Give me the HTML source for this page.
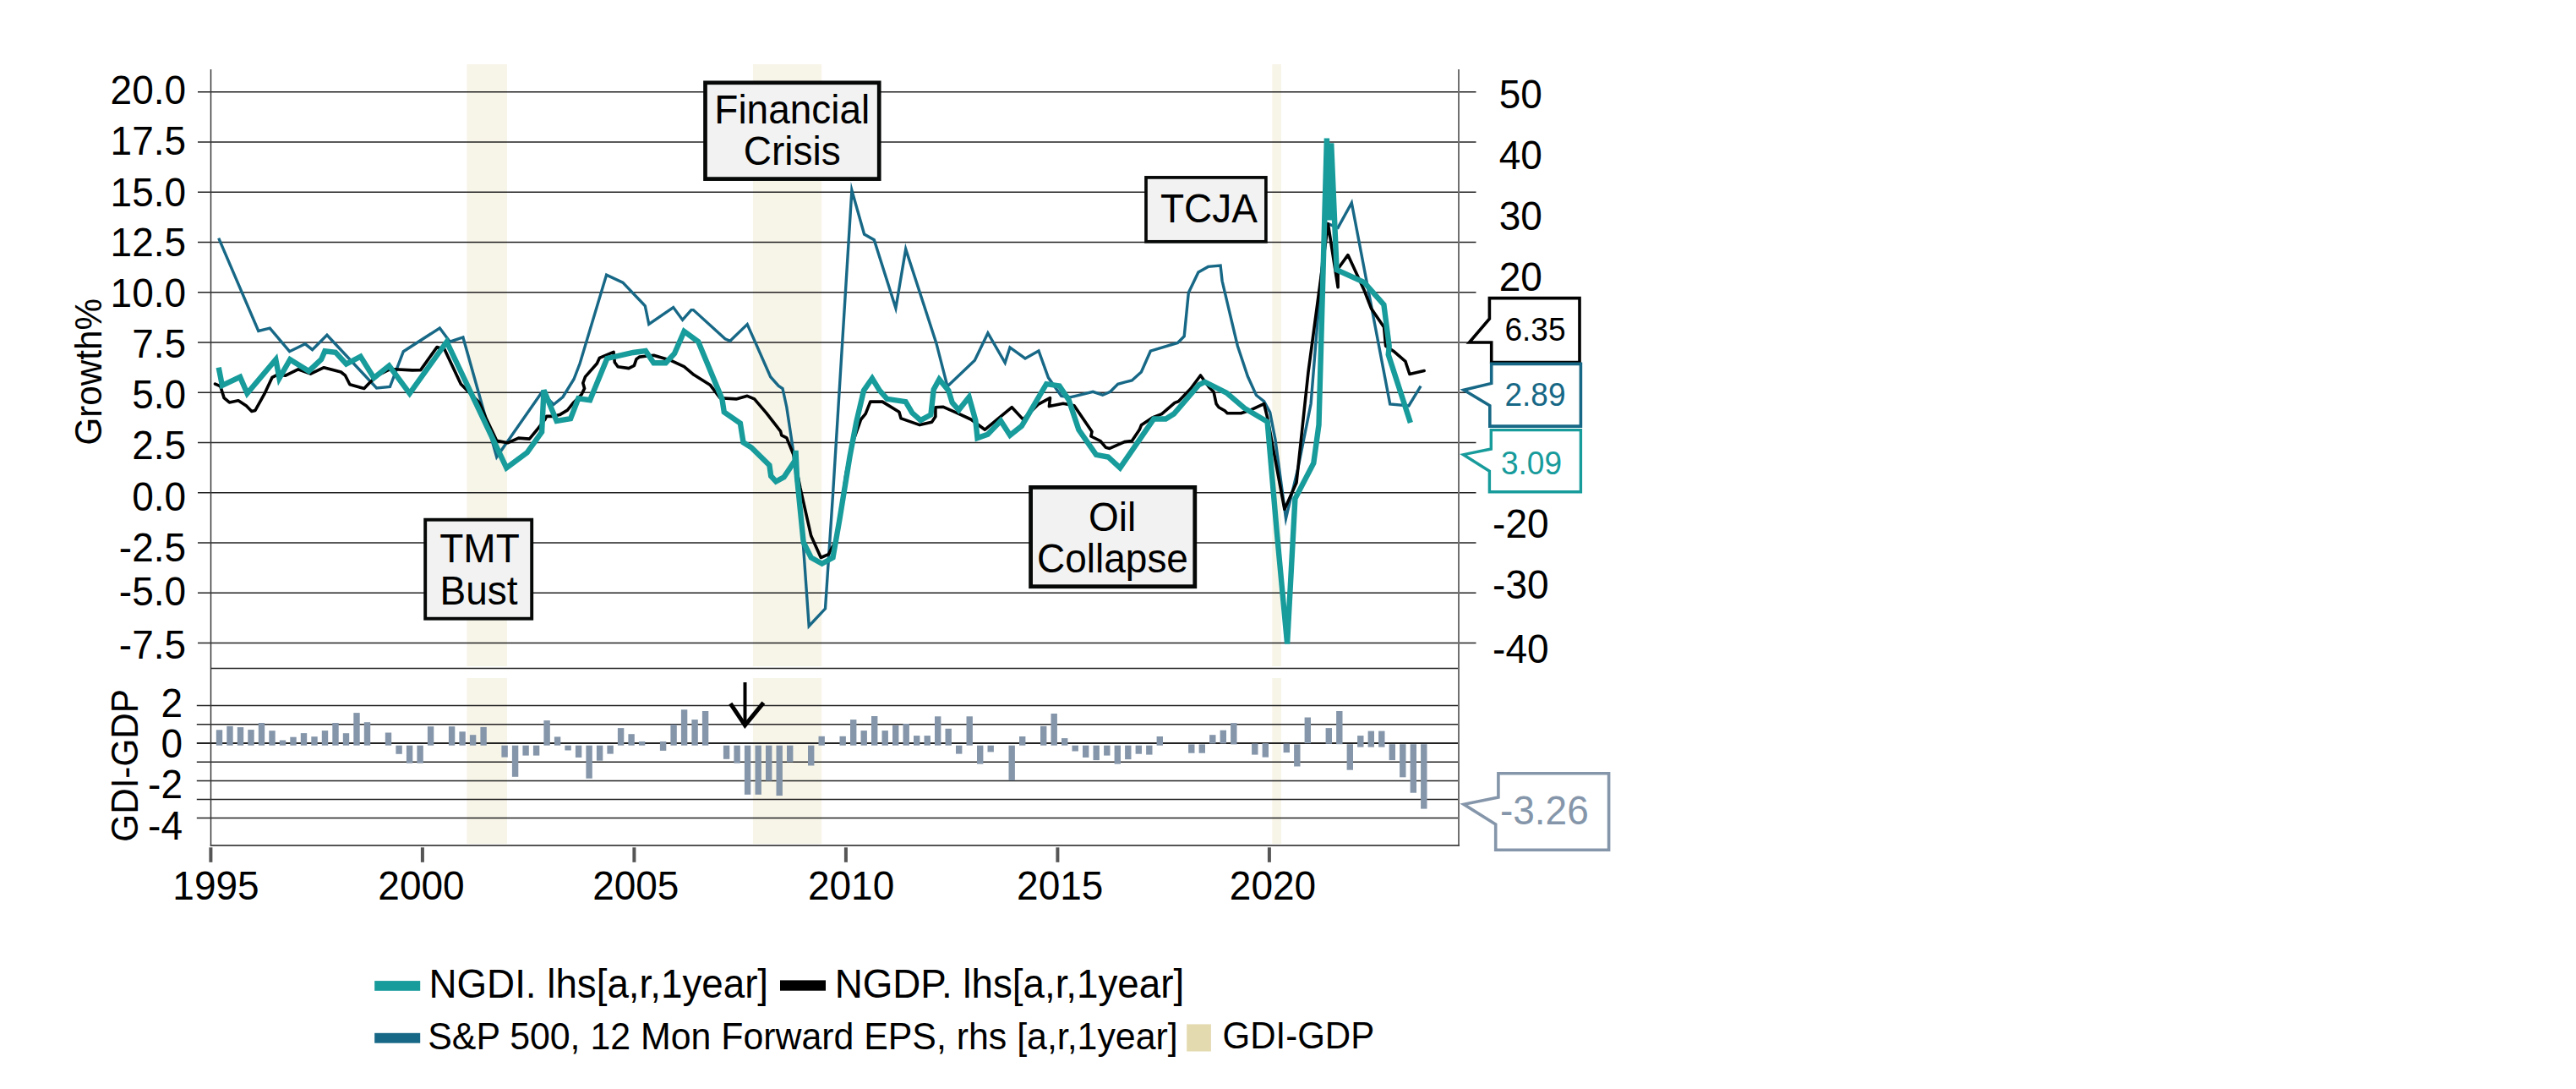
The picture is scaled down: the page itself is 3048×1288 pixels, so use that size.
<!DOCTYPE html><html><head><meta charset="utf-8"><style>html,body{margin:0;padding:0;background:#fff;overflow:hidden;}svg{display:block;}text{font-family:"Liberation Sans", sans-serif;}</style></head><body>
<svg width="3048" height="1288" viewBox="0 0 3048 1288">
<rect x="0" y="0" width="3048" height="1288" fill="#fff"/>
<rect x="552.5" y="76" width="47.4" height="712" fill="#f7f4e8"/>
<rect x="552.5" y="802" width="47.4" height="196" fill="#f7f4e8"/>
<rect x="891.0" y="76" width="81.2" height="712" fill="#f7f4e8"/>
<rect x="891.0" y="802" width="81.2" height="196" fill="#f7f4e8"/>
<rect x="1505.3" y="76" width="10.7" height="712" fill="#f7f4e8"/>
<rect x="1505.3" y="802" width="10.7" height="196" fill="#f7f4e8"/>
<line x1="234" y1="108.85" x2="1746.5" y2="108.85" stroke="#222222" stroke-width="1.5"/>
<line x1="234" y1="168.08" x2="1746.5" y2="168.08" stroke="#222222" stroke-width="1.5"/>
<line x1="234" y1="227.31" x2="1746.5" y2="227.31" stroke="#222222" stroke-width="1.5"/>
<line x1="234" y1="286.54" x2="1746.5" y2="286.54" stroke="#222222" stroke-width="1.5"/>
<line x1="234" y1="345.77" x2="1746.5" y2="345.77" stroke="#222222" stroke-width="1.5"/>
<line x1="234" y1="405.00" x2="1746.5" y2="405.00" stroke="#222222" stroke-width="1.5"/>
<line x1="234" y1="464.23" x2="1746.5" y2="464.23" stroke="#222222" stroke-width="1.5"/>
<line x1="234" y1="523.46" x2="1746.5" y2="523.46" stroke="#222222" stroke-width="1.5"/>
<line x1="234" y1="582.69" x2="1746.5" y2="582.69" stroke="#222222" stroke-width="1.5"/>
<line x1="234" y1="641.92" x2="1746.5" y2="641.92" stroke="#222222" stroke-width="1.5"/>
<line x1="234" y1="701.15" x2="1746.5" y2="701.15" stroke="#222222" stroke-width="1.5"/>
<line x1="234" y1="760.38" x2="1746.5" y2="760.38" stroke="#222222" stroke-width="1.5"/>
<line x1="249.4" y1="790.5" x2="1726" y2="790.5" stroke="#222222" stroke-width="1.7"/>
<line x1="232.8" y1="834.5" x2="1726" y2="834.5" stroke="#222222" stroke-width="1.5"/>
<line x1="232.8" y1="856.8" x2="1726" y2="856.8" stroke="#222222" stroke-width="1.5"/>
<line x1="232.8" y1="879.1" x2="1726" y2="879.1" stroke="#222222" stroke-width="2.0"/>
<line x1="232.8" y1="901.3" x2="1726" y2="901.3" stroke="#222222" stroke-width="1.5"/>
<line x1="232.8" y1="923.4" x2="1726" y2="923.4" stroke="#222222" stroke-width="1.5"/>
<line x1="232.8" y1="945.5" x2="1726" y2="945.5" stroke="#222222" stroke-width="1.5"/>
<line x1="232.8" y1="967.6" x2="1726" y2="967.6" stroke="#222222" stroke-width="1.5"/>
<line x1="249.5" y1="82" x2="249.5" y2="1000.6" stroke="#383838" stroke-width="1.5"/>
<line x1="1726" y1="82" x2="1726" y2="1000.6" stroke="#707070" stroke-width="2"/>
<line x1="248.7" y1="999.9" x2="1727" y2="999.9" stroke="#3c3c3c" stroke-width="1.6"/>
<rect x="247.4" y="1002.3" width="4" height="17.5" fill="#555"/>
<rect x="497.9" y="1002.3" width="4" height="17.5" fill="#555"/>
<rect x="748.4" y="1002.3" width="4" height="17.5" fill="#555"/>
<rect x="998.9" y="1002.3" width="4" height="17.5" fill="#555"/>
<rect x="1249.4" y="1002.3" width="4" height="17.5" fill="#555"/>
<rect x="1499.9" y="1002.3" width="4" height="17.5" fill="#555"/>
<rect x="255.8" y="863.3" width="7.4" height="18.4" fill="#8596aa"/>
<rect x="268.3" y="858.8" width="7.4" height="22.9" fill="#8596aa"/>
<rect x="280.8" y="860.1" width="7.4" height="21.6" fill="#8596aa"/>
<rect x="293.3" y="863.1" width="7.4" height="18.6" fill="#8596aa"/>
<rect x="305.8" y="855.0" width="7.4" height="26.7" fill="#8596aa"/>
<rect x="318.3" y="864.2" width="7.4" height="17.5" fill="#8596aa"/>
<rect x="330.8" y="875.5" width="7.4" height="6.2" fill="#8596aa"/>
<rect x="343.3" y="871.7" width="7.4" height="10.0" fill="#8596aa"/>
<rect x="355.8" y="867.1" width="7.4" height="14.6" fill="#8596aa"/>
<rect x="368.3" y="871.2" width="7.4" height="10.5" fill="#8596aa"/>
<rect x="380.8" y="864.1" width="7.4" height="17.6" fill="#8596aa"/>
<rect x="393.3" y="855.0" width="7.4" height="26.7" fill="#8596aa"/>
<rect x="405.8" y="867.2" width="7.4" height="14.5" fill="#8596aa"/>
<rect x="418.3" y="843.1" width="7.4" height="38.6" fill="#8596aa"/>
<rect x="430.8" y="854.2" width="7.4" height="27.5" fill="#8596aa"/>
<rect x="455.8" y="866.5" width="7.4" height="15.2" fill="#8596aa"/>
<rect x="468.4" y="881.7" width="7.4" height="10.1" fill="#8596aa"/>
<rect x="480.9" y="881.7" width="7.4" height="21.0" fill="#8596aa"/>
<rect x="493.4" y="881.7" width="7.4" height="21.0" fill="#8596aa"/>
<rect x="505.9" y="859.2" width="7.4" height="22.5" fill="#8596aa"/>
<rect x="530.9" y="859.2" width="7.4" height="22.5" fill="#8596aa"/>
<rect x="543.4" y="865.3" width="7.4" height="16.4" fill="#8596aa"/>
<rect x="555.9" y="869.2" width="7.4" height="12.5" fill="#8596aa"/>
<rect x="568.4" y="859.9" width="7.4" height="21.8" fill="#8596aa"/>
<rect x="593.4" y="881.7" width="7.4" height="13.9" fill="#8596aa"/>
<rect x="605.9" y="881.7" width="7.4" height="37.1" fill="#8596aa"/>
<rect x="618.4" y="881.7" width="7.4" height="11.9" fill="#8596aa"/>
<rect x="630.9" y="881.7" width="7.4" height="11.9" fill="#8596aa"/>
<rect x="643.4" y="852.1" width="7.4" height="29.6" fill="#8596aa"/>
<rect x="655.9" y="871.4" width="7.4" height="10.3" fill="#8596aa"/>
<rect x="668.4" y="881.7" width="7.4" height="5.8" fill="#8596aa"/>
<rect x="680.9" y="881.7" width="7.4" height="14.2" fill="#8596aa"/>
<rect x="693.4" y="881.7" width="7.4" height="39.0" fill="#8596aa"/>
<rect x="705.9" y="881.7" width="7.4" height="18.0" fill="#8596aa"/>
<rect x="718.4" y="881.7" width="7.4" height="9.9" fill="#8596aa"/>
<rect x="730.9" y="861.1" width="7.4" height="20.6" fill="#8596aa"/>
<rect x="743.4" y="868.2" width="7.4" height="13.5" fill="#8596aa"/>
<rect x="755.9" y="876.9" width="7.4" height="4.8" fill="#8596aa"/>
<rect x="780.9" y="876.9" width="7.4" height="11.0" fill="#8596aa"/>
<rect x="793.4" y="856.9" width="7.4" height="24.8" fill="#8596aa"/>
<rect x="805.9" y="839.3" width="7.4" height="42.4" fill="#8596aa"/>
<rect x="818.4" y="851.1" width="7.4" height="30.6" fill="#8596aa"/>
<rect x="830.9" y="841.0" width="7.4" height="40.7" fill="#8596aa"/>
<rect x="855.9" y="881.7" width="7.4" height="16.1" fill="#8596aa"/>
<rect x="868.4" y="881.7" width="7.4" height="21.0" fill="#8596aa"/>
<rect x="880.9" y="881.7" width="7.4" height="58.1" fill="#8596aa"/>
<rect x="893.5" y="881.7" width="7.4" height="58.1" fill="#8596aa"/>
<rect x="906.0" y="881.7" width="7.4" height="41.8" fill="#8596aa"/>
<rect x="918.5" y="881.7" width="7.4" height="59.4" fill="#8596aa"/>
<rect x="931.0" y="881.7" width="7.4" height="19.6" fill="#8596aa"/>
<rect x="956.0" y="881.7" width="7.4" height="23.8" fill="#8596aa"/>
<rect x="968.5" y="870.8" width="7.4" height="10.9" fill="#8596aa"/>
<rect x="993.5" y="870.8" width="7.4" height="10.9" fill="#8596aa"/>
<rect x="1006.0" y="851.1" width="7.4" height="30.6" fill="#8596aa"/>
<rect x="1018.5" y="864.1" width="7.4" height="17.6" fill="#8596aa"/>
<rect x="1031.0" y="847.0" width="7.4" height="34.7" fill="#8596aa"/>
<rect x="1043.5" y="864.1" width="7.4" height="17.6" fill="#8596aa"/>
<rect x="1056.0" y="857.9" width="7.4" height="23.8" fill="#8596aa"/>
<rect x="1068.5" y="856.0" width="7.4" height="25.7" fill="#8596aa"/>
<rect x="1081.0" y="870.1" width="7.4" height="11.6" fill="#8596aa"/>
<rect x="1093.5" y="870.1" width="7.4" height="11.6" fill="#8596aa"/>
<rect x="1106.0" y="847.3" width="7.4" height="34.4" fill="#8596aa"/>
<rect x="1118.5" y="861.8" width="7.4" height="19.9" fill="#8596aa"/>
<rect x="1131.0" y="881.7" width="7.4" height="9.9" fill="#8596aa"/>
<rect x="1143.5" y="847.3" width="7.4" height="34.4" fill="#8596aa"/>
<rect x="1156.0" y="881.7" width="7.4" height="21.9" fill="#8596aa"/>
<rect x="1168.5" y="881.7" width="7.4" height="7.7" fill="#8596aa"/>
<rect x="1193.5" y="881.7" width="7.4" height="41.4" fill="#8596aa"/>
<rect x="1206.0" y="871.0" width="7.4" height="10.7" fill="#8596aa"/>
<rect x="1231.0" y="858.8" width="7.4" height="22.9" fill="#8596aa"/>
<rect x="1243.5" y="844.0" width="7.4" height="37.7" fill="#8596aa"/>
<rect x="1256.0" y="873.1" width="7.4" height="8.6" fill="#8596aa"/>
<rect x="1268.5" y="881.7" width="7.4" height="6.8" fill="#8596aa"/>
<rect x="1281.0" y="881.7" width="7.4" height="14.2" fill="#8596aa"/>
<rect x="1293.5" y="881.7" width="7.4" height="17.4" fill="#8596aa"/>
<rect x="1306.1" y="881.7" width="7.4" height="11.9" fill="#8596aa"/>
<rect x="1318.6" y="881.7" width="7.4" height="21.9" fill="#8596aa"/>
<rect x="1331.1" y="881.7" width="7.4" height="16.4" fill="#8596aa"/>
<rect x="1343.6" y="881.7" width="7.4" height="10.0" fill="#8596aa"/>
<rect x="1356.1" y="881.7" width="7.4" height="10.9" fill="#8596aa"/>
<rect x="1368.6" y="871.0" width="7.4" height="10.7" fill="#8596aa"/>
<rect x="1406.1" y="880.4" width="7.4" height="10.3" fill="#8596aa"/>
<rect x="1418.6" y="880.4" width="7.4" height="10.3" fill="#8596aa"/>
<rect x="1431.1" y="869.2" width="7.4" height="10.3" fill="#8596aa"/>
<rect x="1443.6" y="863.7" width="7.4" height="15.8" fill="#8596aa"/>
<rect x="1456.1" y="855.1" width="7.4" height="25.3" fill="#8596aa"/>
<rect x="1481.1" y="879.5" width="7.4" height="13.1" fill="#8596aa"/>
<rect x="1493.6" y="879.1" width="7.4" height="16.5" fill="#8596aa"/>
<rect x="1518.6" y="879.5" width="7.4" height="10.6" fill="#8596aa"/>
<rect x="1531.1" y="880.4" width="7.4" height="26.1" fill="#8596aa"/>
<rect x="1543.6" y="848.5" width="7.4" height="30.6" fill="#8596aa"/>
<rect x="1568.6" y="861.1" width="7.4" height="18.7" fill="#8596aa"/>
<rect x="1581.1" y="841.0" width="7.4" height="39.2" fill="#8596aa"/>
<rect x="1593.6" y="880.2" width="7.4" height="30.5" fill="#8596aa"/>
<rect x="1606.1" y="870.1" width="7.4" height="13.5" fill="#8596aa"/>
<rect x="1618.6" y="864.6" width="7.4" height="19.0" fill="#8596aa"/>
<rect x="1631.1" y="864.6" width="7.4" height="19.0" fill="#8596aa"/>
<rect x="1643.6" y="880.2" width="7.4" height="18.9" fill="#8596aa"/>
<rect x="1656.1" y="880.2" width="7.4" height="39.1" fill="#8596aa"/>
<rect x="1668.6" y="880.2" width="7.4" height="57.5" fill="#8596aa"/>
<rect x="1681.1" y="880.2" width="7.4" height="76.4" fill="#8596aa"/>
<polyline points="258.7,281.6 305.8,391.4 319.3,388.2 342.6,415.7 361.1,406.8 369.6,413.6 386.9,396.3 445.6,459.0 461.4,457.5 477.3,415.7 520.3,388.0 532.4,404.2 547.9,399.0 587.7,540.5 641.1,464.0 655.0,478.5 666.0,469.5 679.0,448.5 686.1,430.0 717.6,325.1 736.9,334.1 763.3,361.7 767.8,383.5 796.7,363.6 807.6,378.4 817.9,366.6 820.4,366.6 858.0,400.8 863.9,403.2 884.2,383.6 893.8,405.1 911.7,445.7 921.2,456.4 926.0,459.5 930.8,481.5 938.0,529.2 949.5,631.2 957.2,740.5 976.5,719.9 985.5,584.9 1007.9,225.0 1022.6,277.0 1034.3,283.7 1059.9,364.5 1071.7,294.6 1107.8,405.6 1121.0,457.0 1153.3,426.2 1168.9,393.9 1189.2,429.1 1195.0,410.9 1213.0,423.9 1229.0,415.0 1240.4,446.6 1255.8,468.5 1266.2,469.8 1293.2,463.3 1304.7,467.2 1313.7,463.3 1322.7,454.3 1330.5,452.1 1339.3,449.9 1350.4,440.0 1361.3,415.2 1393.5,405.5 1401.2,397.7 1406.3,346.3 1417.9,321.9 1429.5,315.4 1444.1,314.1 1446.1,332.3 1454.2,366.6 1464.3,409.0 1476.4,445.3 1486.5,467.5 1495.6,474.6 1502.7,487.7 1509.0,520.0 1521.5,613.2 1535.5,555.5 1551.1,477.5 1568.4,263.4 1583.1,269.3 1599.3,239.9 1644.7,477.9 1666.9,479.9 1681.1,456.7" fill="none" stroke="#176886" stroke-width="3.4" stroke-linejoin="miter" stroke-miterlimit="8" stroke-linecap="butt"/>
<polyline points="254.5,454.1 260.8,456.9 265.1,470.6 271.4,475.9 282.0,473.8 291.5,480.1 297.8,486.4 302.0,485.4 312.6,466.4 322.1,446.3 328.4,443.1 337.9,444.2 352.7,436.8 367.5,442.1 383.3,434.7 403.4,440.0 408.6,444.2 413.9,454.8 430.8,459.4 437.5,452.5 447.0,444.0 460.0,437.5 466.7,436.8 487.8,437.9 497.7,437.6 517.0,410.6 526.0,413.2 545.3,454.3 567.2,476.2 574.9,494.2 587.7,521.2 600.6,523.8 613.5,518.1 626.4,519.1 635.6,508.0 644.8,496.1 646.6,492.4 654.0,492.4 662.2,490.6 671.4,485.1 678.8,475.9 688.0,466.7 691.6,459.4 689.8,453.0 692.5,445.6 706.3,430.0 709.3,423.4 726.0,416.3 727.3,428.5 731.1,433.7 744.0,435.6 750.4,432.4 753.0,424.7 756.8,422.1 773.5,420.2 792.8,425.9 809.5,433.7 821.0,443.3 840.1,455.2 852.0,470.7 871.1,471.9 884.2,468.3 892.6,471.9 906.9,488.6 923.6,510.1 924.8,514.9 930.8,517.8 939.2,538.6 946.9,577.2 959.7,633.8 971.3,659.5 980.3,655.6 989.3,638.9 996.0,597.0 1001.0,560.0 1008.0,526.0 1018.7,496.0 1024.2,489.4 1029.8,475.1 1044.1,475.1 1063.9,487.2 1066.1,494.9 1088.2,502.6 1102.5,499.3 1106.9,492.7 1106.9,481.7 1115.7,481.2 1132.2,488.3 1148.8,496.0 1165.4,508.2 1197.3,481.7 1210.6,496.1 1228.2,478.4 1242.5,470.7 1241.4,480.6 1258.0,477.3 1271.0,479.7 1292.0,510.5 1290.9,516.0 1301.9,521.5 1308.5,529.3 1312.9,530.4 1330.5,522.6 1339.3,521.5 1348.2,508.3 1350.4,502.8 1363.6,494.0 1374.6,489.6 1390.0,476.4 1394.4,474.7 1408.8,459.8 1420.5,444.0 1430.8,458.2 1436.1,463.5 1439.1,477.6 1442.1,481.7 1449.2,485.7 1452.2,488.7 1468.4,488.7 1480.5,484.7 1495.6,477.6 1499.6,493.8 1519.9,602.3 1534.0,571.1 1548.0,440.0 1571.4,264.9 1583.1,339.8 1583.1,318.0 1594.9,301.6 1613.9,342.7 1622.4,364.7 1637.6,386.9 1639.6,409.2 1648.7,415.2 1662.9,427.4 1667.9,442.5 1685.1,438.5" fill="none" stroke="#000" stroke-width="3.6" stroke-linejoin="round" stroke-linecap="round"/>
<polyline points="258.7,434.7 262.9,455.8 284.1,445.9 292.5,465.3 326.3,425.2 330.5,447.4 343.2,425.2 365.4,438.9 380.1,425.2 384.4,415.3 397.0,416.7 409.7,430.5 426.6,421.6 442.4,446.9 460.4,432.6 484.7,465.3 528.6,404.2 599.3,553.3 623.7,535.3 641.1,510.8 643.5,461.5 658.6,498.0 675.1,495.2 684.3,471.3 698.1,473.2 718.3,424.0 749.1,417.0 763.9,415.0 773.5,429.2 787.7,429.2 798.0,418.2 809.5,391.9 826.2,404.1 854.4,471.9 856.8,487.4 875.9,500.6 879.5,523.3 889.0,529.2 910.4,550.2 912.2,563.0 918.1,569.5 927.6,564.3 940.5,545.0 941.5,533.0 943.0,564.3 950.7,641.5 959.7,659.5 972.6,666.7 985.5,659.5 993.2,615.8 1005.5,540.0 1013.2,499.3 1022.0,461.9 1032.0,447.5 1040.8,461.9 1049.6,471.8 1071.6,475.1 1079.3,488.3 1089.3,497.1 1101.4,490.5 1104.7,460.8 1111.3,448.7 1122.3,461.9 1126.7,476.2 1134.4,485.0 1146.6,469.6 1154.3,497.1 1156.5,518.1 1168.7,513.7 1184.1,497.7 1195.1,514.8 1208.9,503.8 1238.1,454.2 1253.5,456.4 1264.6,472.9 1276.4,508.3 1297.0,537.9 1311.2,540.5 1325.3,553.3 1365.2,495.5 1379.3,495.5 1389.0,489.5 1418.7,455.0 1425.6,451.7 1451.3,464.6 1472.4,482.7 1499.6,498.8 1510.6,627.3 1523.1,761.5 1532.4,589.8 1554.3,547.7 1560.5,502.4 1569.9,163.5 1573.4,260.4 1575.2,169.4 1581.6,319.2 1614.0,333.9 1637.4,360.3 1643.7,409.2 1642.7,419.3 1668.9,500.1" fill="none" stroke="#189b9b" stroke-width="6.4" stroke-linejoin="miter" stroke-miterlimit="4" stroke-linecap="butt"/>
<text transform="translate(220.1 123.2) scale(1 1.040)" font-size="46" text-anchor="end" fill="#000">20.0</text>
<text transform="translate(220.1 183.0) scale(1 1.040)" font-size="46" text-anchor="end" fill="#000">17.5</text>
<text transform="translate(220.1 243.6) scale(1 1.040)" font-size="46" text-anchor="end" fill="#000">15.0</text>
<text transform="translate(220.1 303.3) scale(1 1.040)" font-size="46" text-anchor="end" fill="#000">12.5</text>
<text transform="translate(220.1 363.4) scale(1 1.040)" font-size="46" text-anchor="end" fill="#000">10.0</text>
<text transform="translate(220.1 423.3) scale(1 1.040)" font-size="46" text-anchor="end" fill="#000">7.5</text>
<text transform="translate(220.1 482.8) scale(1 1.040)" font-size="46" text-anchor="end" fill="#000">5.0</text>
<text transform="translate(220.1 543.4) scale(1 1.040)" font-size="46" text-anchor="end" fill="#000">2.5</text>
<text transform="translate(220.1 603.6) scale(1 1.040)" font-size="46" text-anchor="end" fill="#000">0.0</text>
<text transform="translate(220.1 663.5) scale(1 1.040)" font-size="46" text-anchor="end" fill="#000">-2.5</text>
<text transform="translate(220.1 715.5) scale(1 1.040)" font-size="46" text-anchor="end" fill="#000">-5.0</text>
<text transform="translate(220.1 779.3) scale(1 1.040)" font-size="46" text-anchor="end" fill="#000">-7.5</text>
<text transform="translate(1799.3 128.3) scale(1 1.040)" font-size="46" text-anchor="middle" fill="#000">50</text>
<text transform="translate(1799.3 200.0) scale(1 1.040)" font-size="46" text-anchor="middle" fill="#000">40</text>
<text transform="translate(1799.3 272.0) scale(1 1.040)" font-size="46" text-anchor="middle" fill="#000">30</text>
<text transform="translate(1799.3 344.0) scale(1 1.040)" font-size="46" text-anchor="middle" fill="#000">20</text>
<text transform="translate(1799.3 636.0) scale(1 1.040)" font-size="46" text-anchor="middle" fill="#000">-20</text>
<text transform="translate(1799.3 708.0) scale(1 1.040)" font-size="46" text-anchor="middle" fill="#000">-30</text>
<text transform="translate(1799.3 784.0) scale(1 1.040)" font-size="46" text-anchor="middle" fill="#000">-40</text>
<text transform="translate(255.5 1063.8) scale(1 1.040)" font-size="46" text-anchor="middle" fill="#000">1995</text>
<text transform="translate(498.5 1063.8) scale(1 1.040)" font-size="46" text-anchor="middle" fill="#000">2000</text>
<text transform="translate(752.3 1063.8) scale(1 1.040)" font-size="46" text-anchor="middle" fill="#000">2005</text>
<text transform="translate(1007.1 1063.8) scale(1 1.040)" font-size="46" text-anchor="middle" fill="#000">2010</text>
<text transform="translate(1254.2 1063.8) scale(1 1.040)" font-size="46" text-anchor="middle" fill="#000">2015</text>
<text transform="translate(1506.0 1063.8) scale(1 1.040)" font-size="46" text-anchor="middle" fill="#000">2020</text>
<text transform="translate(216 848.3) scale(1 1.040)" font-size="46" text-anchor="end" fill="#000">2</text>
<text transform="translate(216 896.2) scale(1 1.040)" font-size="46" text-anchor="end" fill="#000">0</text>
<text transform="translate(216 944.1) scale(1 1.040)" font-size="46" text-anchor="end" fill="#000">-2</text>
<text transform="translate(216 992.5) scale(1 1.040)" font-size="46" text-anchor="end" fill="#000">-4</text>
<text transform="translate(120.2 439.8) rotate(-90) scale(1 1.040)" font-size="42.2" text-anchor="middle" fill="#000">Growth%</text>
<text transform="translate(162.9 905.4) rotate(-90) scale(1 1.040)" font-size="42.2" text-anchor="middle" fill="#000">GDI-GDP</text>
<rect x="834.5" y="97.8" width="205.7" height="113.8" fill="#f2f2f2" stroke="#060808" stroke-width="4.7"/><text transform="translate(937.3 146.1) scale(1 1.040)" font-size="46" text-anchor="middle" fill="#000">Financial</text><text transform="translate(937.3 195.0) scale(1 1.040)" font-size="46" text-anchor="middle" fill="#000">Crisis</text>
<rect x="1356.0" y="209.9" width="141.9" height="75.9" fill="#f2f2f2" stroke="#060808" stroke-width="3.7"/><text transform="translate(1430.5 263.4) scale(1 1.040)" font-size="46" text-anchor="middle" fill="#000">TCJA</text>
<rect x="503.2" y="614.7" width="126.0" height="117.0" fill="#f2f2f2" stroke="#060808" stroke-width="3.9"/><text transform="translate(567.5 665.4) scale(1 1.040)" font-size="46" text-anchor="middle" fill="#000">TMT</text><text transform="translate(566.5 714.6) scale(1 1.040)" font-size="46" text-anchor="middle" fill="#000">Bust</text>
<rect x="1219.6" y="576.4" width="194.2" height="117.3" fill="#f2f2f2" stroke="#060808" stroke-width="4.8"/><text transform="translate(1316.0 627.5) scale(1 1.040)" font-size="46" text-anchor="middle" fill="#000">Oil</text><text transform="translate(1316.5 676.8) scale(1 1.040)" font-size="46" text-anchor="middle" fill="#000">Collapse</text>
<line x1="881.5" y1="807" x2="881.5" y2="858" stroke="#000" stroke-width="4"/>
<polyline points="864.3,832.2 881.5,857.8 903.4,831.1" fill="none" stroke="#000" stroke-width="5"/>
<polygon points="1762.4,352.6 1869,352.6 1869,428.5 1764.7,428.5 1764.7,405 1738.5,405 1762.4,377" fill="#fff" stroke="#000" stroke-width="3.6"/>
<polygon points="1764.7,430.4 1870.4,430.4 1870.4,504.1 1762.8,504.1 1762.8,479.7 1732,461.3 1764.7,453.4" fill="#fff" stroke="#176886" stroke-width="3.6"/>
<polygon points="1764.3,508.6 1870.4,508.6 1870.4,581.7 1762.4,581.7 1762.4,557.2 1731.5,537.7 1764.3,531" fill="#fff" stroke="#189b9b" stroke-width="3.4"/>
<text transform="translate(1816.5 402.5) scale(1 1.040)" font-size="37" text-anchor="middle" fill="#000">6.35</text>
<text transform="translate(1816.5 480.4) scale(1 1.040)" font-size="37" text-anchor="middle" fill="#176886">2.89</text>
<text transform="translate(1812 560.8) scale(1 1.040)" font-size="37" text-anchor="middle" fill="#189b9b">3.09</text>
<polygon points="1772.9,914.7 1903.6,914.7 1903.6,1005.3 1769.7,1005.3 1769.7,975.1 1732,951.3 1772.9,943" fill="#fff" stroke="#8596aa" stroke-width="3.6"/>
<text transform="translate(1827.3 974.5) scale(1 1.040)" font-size="46" text-anchor="middle" fill="#8596aa">-3.26</text>
<rect x="443.2" y="1160.1" width="54" height="11.7" fill="#189b9b"/>
<text transform="translate(507.5 1179.7) scale(1 1.040)" font-size="45.75" fill="#000">NGDI. lhs[a,r,1year]</text>
<rect x="923" y="1159.4" width="54" height="12.3" fill="#000"/>
<text transform="translate(987.7 1179.7) scale(1 1.040)" font-size="45.75" fill="#000">NGDP. lhs[a,r,1year]</text>
<rect x="443.2" y="1221.8" width="54" height="11.9" fill="#176886"/>
<text transform="translate(506.3 1240.8) scale(1 1.040)" font-size="42.85" fill="#000">S&amp;P 500, 12 Mon Forward EPS, rhs [a,r,1year]</text>
<rect x="1404.2" y="1211.4" width="28.7" height="32.1" fill="#e4dab0"/>
<text transform="translate(1446.6 1240.1) scale(1 1.040)" font-size="42" fill="#000">GDI-GDP</text>
</svg></body></html>
